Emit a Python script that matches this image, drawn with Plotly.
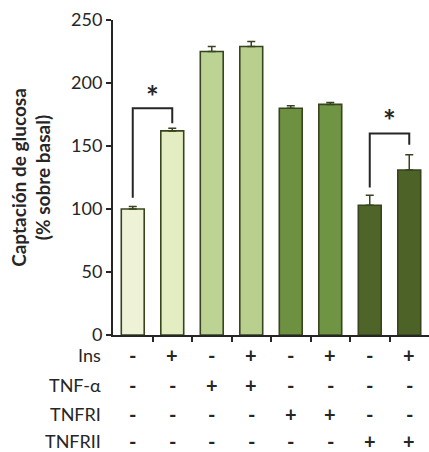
import plotly.graph_objects as go

# ---- data ----
values = [100, 162, 225, 229, 180, 183, 103, 131]
errors = [2, 2, 4, 4, 2, 1.5, 8, 12]
bar_colors = ["#eef3d8", "#e4ecc2", "#bcd393", "#b8cf8d", "#6e9141", "#6f9444", "#4e6429", "#4c6227"]
row_names = ["Ins", "TNF-\u03b1", "TNFRI", "TNFRII"]
row_signs = [
    ["-", "+", "-", "+", "-", "+", "-", "+"],
    ["-", "-", "+", "+", "-", "-", "-", "-"],
    ["-", "-", "-", "-", "+", "+", "-", "-"],
    ["-", "-", "-", "-", "-", "-", "+", "+"],
]
y_ticks = [0, 50, 100, 150, 200, 250]
# significance brackets: (left bar, right bar, top value, left leg bottom, right leg bottom, star value)
brackets = [(0, 1, 180, 109, 168, 190), (6, 7, 160, 117, 151, 171)]

FONT = "Lato"
TXT = "#262626"
x = list(range(len(values)))

fig = go.Figure()
fig.add_trace(go.Bar(
    x=x, y=values, width=0.58,
    marker=dict(color=bar_colors, line=dict(color="#37451f", width=1.6)),
    error_y=dict(type="data", array=errors, arrayminus=[0]*len(errors), symmetric=False,
                 color="#37451f", thickness=1.5, width=4),
    showlegend=False,
))

for (i, j, top, lb, rb, star) in brackets:
    fig.add_shape(type="path",
                  path=f"M {x[i]} {lb} L {x[i]} {top} L {x[j]} {top} L {x[j]} {rb}",
                  line=dict(color=TXT, width=2), xref="x", yref="y")
    fig.add_annotation(x=(x[i]+x[j])/2, y=star, text="<b>*</b>", showarrow=False,
                       font=dict(family=FONT, size=30, color=TXT),
                       xref="x", yref="y", yanchor="middle")

# condition rows under the axis
plot_top, plot_bottom = 20, 335
ph = plot_bottom - plot_top
row_px = [355, 385, 414, 441]
for r, (name, signs) in enumerate(zip(row_names, row_signs)):
    yp = (plot_bottom - row_px[r]) / ph
    fig.add_annotation(x=0, xref="paper", xshift=-10, y=yp, yref="paper",
                       text=name, showarrow=False, xanchor="right", yanchor="middle",
                       font=dict(family=FONT, size=18, color=TXT))
    for k, s in enumerate(signs):
        fig.add_annotation(x=x[k], xref="x", y=yp, yref="paper",
                           text=f"<b>{s}</b>", showarrow=False, xanchor="center", yanchor="middle",
                           font=dict(family=FONT, size=20, color=TXT))

fig.update_layout(
    width=429, height=452,
    margin=dict(l=113, r=0, t=20, b=117),
    paper_bgcolor="white", plot_bgcolor="white",
    font=dict(family=FONT, size=18, color=TXT),
)
fig.update_xaxes(range=[-0.5, 7.5], showgrid=False, zeroline=False,
                 showline=True, linecolor=TXT, linewidth=2,
                 tickvals=[k + 0.5 for k in x[:-1]], ticktext=[""]*(len(x)-1),
                 ticks="outside", ticklen=5, tickwidth=1.5, tickcolor=TXT)
fig.update_yaxes(range=[0, 250], showgrid=False, zeroline=False,
                 showline=True, linecolor=TXT, linewidth=2,
                 tickvals=y_ticks, ticks="outside", ticklen=5, tickwidth=2, tickcolor=TXT,
                 tickfont=dict(family=FONT, size=18, color=TXT),
                 title=dict(text="<b>Captación de glucosa</b><br><b>(% sobre basal)</b>", standoff=15,
                            font=dict(family=FONT, size=19, color=TXT)))

fig.write_html("out.html")
